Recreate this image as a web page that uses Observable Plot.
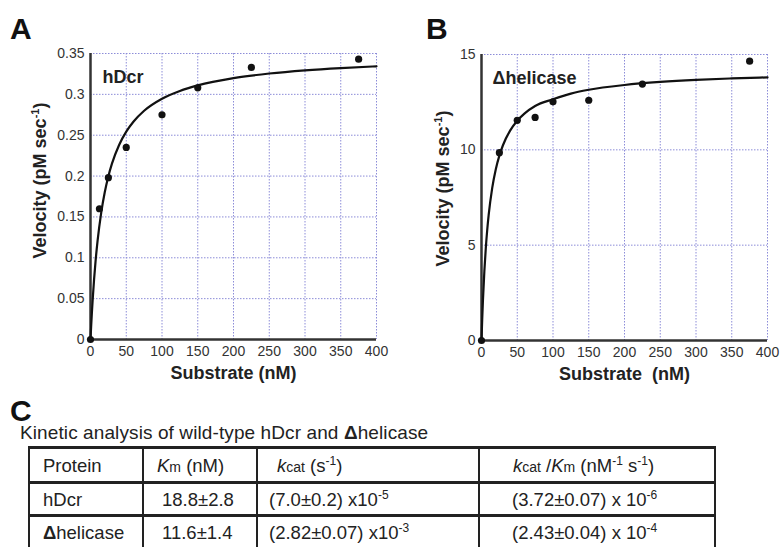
<!DOCTYPE html>
<html><head><meta charset="utf-8">
<script src="https://cdn.jsdelivr.net/npm/d3@7"></script>
<script src="https://cdn.jsdelivr.net/npm/@observablehq/plot@0.6"></script>
<style>
body{margin:0;width:781px;height:547px;overflow:hidden;position:relative;background:#fff;font-family:"Liberation Sans",Arial,sans-serif;color:#222;}
.panel{position:absolute;top:0;}
.letter{position:absolute;font-weight:bold;font-size:30px;line-height:22px;color:#111;}
#caption{position:absolute;left:20px;top:423px;font-size:19px;line-height:19px;white-space:nowrap;letter-spacing:0.1px;}
.line{position:absolute;background:#222;}
.cell{position:absolute;font-size:18.5px;line-height:22px;white-space:nowrap;color:#222;}
.cell sup{font-size:12px;vertical-align:7px;line-height:0;}
.cell small{font-size:14px;}
</style></head><body>
<div id="A" class="panel" style="left:0"></div>
<div id="B" class="panel" style="left:390px"></div>
<div class="letter" style="left:10px;top:18px">A</div>
<div class="letter" style="left:426px;top:18px">B</div>
<div class="letter" style="left:10px;top:400px">C</div>
<div id="caption"></div>
<div id="table"></div>
<script>
// ---- data ----
const xTicks = [0, 50, 100, 150, 200, 250, 300, 350, 400];
const yTicksA = [0, 0.05, 0.1, 0.15, 0.2, 0.25, 0.3, 0.35];
const yTicksB = [0, 5, 10, 15];

const substrateA = [0, 12.5, 25, 50, 100, 150, 225, 375];
const velocityA = [0, 0.160, 0.198, 0.235, 0.275, 0.308, 0.333, 0.343];
const fitSubstrateA = [0, 1, 2, 3, 5, 7, 10, 15, 20, 25, 30, 40, 50, 60, 75, 100, 125, 150, 200, 250, 300, 350, 400];
const fitVelocityA = [0, 0.0177, 0.0337, 0.0482, 0.0735, 0.0950, 0.1215, 0.1553, 0.1804, 0.1998, 0.2152, 0.2381, 0.2544, 0.2665, 0.2799, 0.2946, 0.3042, 0.3110, 0.3199, 0.3255, 0.3294, 0.3322, 0.3343];

const substrateB = [0, 25, 50, 75, 100, 150, 225, 375];
const velocityB = [0, 9.85, 11.55, 11.7, 12.52, 12.6, 13.45, 14.65];
const fitSubstrateB = [0, 1, 2, 4, 6, 8, 10, 15, 20, 25, 30, 40, 50, 60, 75, 100, 125, 150, 200, 250, 300, 350, 400];
const fitVelocityB = [0, 1.127, 2.088, 3.641, 4.841, 5.796, 6.574, 8.008, 8.987, 9.699, 10.240, 11.008, 11.526, 11.899, 12.298, 12.650, 12.950, 13.150, 13.400, 13.560, 13.670, 13.745, 13.800];

const panelNames = ["hDcr", "Δhelicase"];
const yLabel = "Velocity (pM sec";
const xLabels = ["Substrate (nM)", "Substrate  (nM)"];

const captionText = ["Kinetic analysis of wild-type hDcr and ", "Δ", "helicase"];
const proteins = ["hDcr", "helicase"];
const proteinPrefix = ["", "Δ"];
const kmValues = ["18.8±2.8", "11.6±1.4"];
const kcatValues = ["(7.0±0.2) x10", "(2.82±0.07) x10"];
const kcatExps = ["-5", "-3"];
const ratioValues = ["(3.72±0.07) x 10", "(2.43±0.04) x 10"];
const ratioExps = ["-6", "-4"];

// ---- drawing ----
const FONT = '"Liberation Sans", Arial, sans-serif';
const GRID = "#8c8cd8";

function panel(o) {
  const pts = o.sx.map((x, i) => ({x, y: o.sy[i]}));
  const fit = o.fx.map((x, i) => ({x, y: o.fy[i]}));
  const svg = Plot.plot({
    width: o.width, height: 390,
    marginLeft: o.ml, marginRight: 14, marginTop: o.mt, marginBottom: o.mb,
    style: {fontFamily: FONT, fontSize: "14px", color: "#333", background: "transparent", overflow: "visible"},
    x: {domain: [0, 400], ticks: xTicks, tickSize: 0, tickPadding: 7, label: null},
    y: {domain: o.yDomain, ticks: o.yTicks, tickSize: 0, tickPadding: 6, label: null, tickFormat: d => String(d)},
    marks: [
      Plot.ruleX(xTicks.filter(d => d > 0), {stroke: GRID, strokeWidth: 1, strokeDasharray: "1.5,1.5"}),
      Plot.ruleY(o.yTicks.filter(d => d > 0), {stroke: GRID, strokeWidth: 1, strokeDasharray: "1.5,1.5"}),
      Plot.ruleX([0], {stroke: "#333", strokeWidth: 2.5}),
      Plot.ruleY([0], {stroke: "#333", strokeWidth: 2.5}),
      Plot.line(fit, {x: "x", y: "y", curve: "monotone-x", stroke: "#111", strokeWidth: 2.2}),
      Plot.dot(pts, {x: "x", y: "y", r: 3.6, fill: "#111", stroke: "none"}),
      Plot.text([o.name], {text: d => d, frameAnchor: "top-left", dx: o.nameDx, dy: 17, textAnchor: "start", fontWeight: "bold", fontSize: 18, fill: "#222"}),
      Plot.text([yLabel], {text: d => d, frameAnchor: "left", rotate: -90, dx: o.ylDx, dy: o.ylDy, textAnchor: "middle", fontWeight: "bold", fontSize: 18, fill: "#222"}),
      Plot.text([o.xlabel], {text: d => d, frameAnchor: "bottom", dy: 39, textAnchor: "middle", fontWeight: "bold", fontSize: 18, fill: "#222"})
    ]
  });
  // superscript -1 in the y label
  svg.querySelectorAll("text").forEach(t => {
    if (t.textContent === yLabel) {
      t.textContent = "";
      t.setAttribute("text-anchor", "middle");
      const ns = "http://www.w3.org/2000/svg";
      const a = document.createElementNS(ns, "tspan"); a.textContent = yLabel;
      const b = document.createElementNS(ns, "tspan"); b.textContent = "-1"; b.setAttribute("dy", "-7"); b.setAttribute("font-size", "11");
      const c = document.createElementNS(ns, "tspan"); c.textContent = ")"; c.setAttribute("dy", "7");
      t.append(a, b, c);
    }
  });
  return svg;
}

document.getElementById("A").append(panel({
  sx: substrateA, sy: velocityA, fx: fitSubstrateA, fy: fitVelocityA,
  yDomain: [0, 0.35], yTicks: yTicksA, width: 390, ml: 90, mt: 53, mb: 51,
  name: panelNames[0], nameDx: 12, ylDx: -50, ylDy: -16, xlabel: xLabels[0]
}));
document.getElementById("B").append(panel({
  sx: substrateB, sy: velocityB, fx: fitSubstrateB, fy: fitVelocityB,
  yDomain: [0, 15], yTicks: yTicksB, width: 391, ml: 91, mt: 54, mb: 50,
  name: panelNames[1], nameDx: 11, ylDx: -38, ylDy: -9, xlabel: xLabels[1]
}));

// caption + table
document.getElementById("caption").innerHTML = captionText[0] + "<b>" + captionText[1] + "</b>" + captionText[2];
const colX = [29, 143, 257, 479, 715];
const rowY = [447.7, 482.3, 515.7, 550];
const rowCenters = [465.5, 499.5, 533];
const rowPads = [[14, 14, 20, 34], [14, 19, 12, 33], [14, 19, 12, 33]];
const header = ["Protein", "<i>K</i><small>m</small> (nM)", "<i>k</i><small>cat</small> (s<sup>-1</sup>)",
  "<i>k</i><small>cat</small> /<i>K</i><small>m</small> (nM<sup>-1</sup> s<sup>-1</sup>)"];
const rows = [header].concat(proteins.map((p, i) => [
  (proteinPrefix[i] ? "<b>" + proteinPrefix[i] + "</b>" : "") + p,
  kmValues[i],
  kcatValues[i] + "<sup>" + kcatExps[i] + "</sup>",
  ratioValues[i] + "<sup>" + ratioExps[i] + "</sup>"
]));
let html = "";
const LW = 2.5;
rowY.forEach(y => { html += `<div class="line" style="left:${colX[0] - LW / 2}px;top:${y - LW / 2}px;width:${colX[4] - colX[0] + LW}px;height:${LW}px"></div>`; });
colX.forEach(x => { html += `<div class="line" style="left:${x - LW / 2}px;top:${rowY[0] - LW / 2}px;width:${LW}px;height:120px"></div>`; });
rows.forEach((r, i) => r.forEach((c, j) => {
  html += `<div class="cell" style="left:${colX[j] + rowPads[i][j]}px;top:${rowCenters[i] - 11}px">${c}</div>`;
}));
document.getElementById("table").innerHTML = html;
</script>
</body></html>
